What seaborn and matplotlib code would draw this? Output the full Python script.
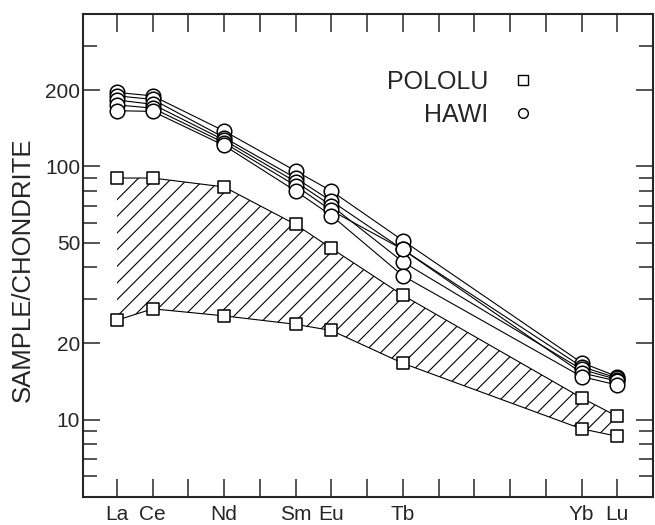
import numpy as np
import pandas as pd
import matplotlib
matplotlib.use("Agg")
import matplotlib.pyplot as plt
import seaborn as sns
from matplotlib.lines import Line2D
from matplotlib.ticker import FixedLocator, NullFormatter

# ---- data ----
elements = ["La", "Ce", "Nd", "Sm", "Eu", "Tb", "Yb", "Lu"]
atomic_number = [57, 58, 60, 62, 63, 65, 70, 71]

pololu_upper = [90, 90, 83, 59, 47.5, 31, 12.2, 10.3]
pololu_lower = [24.7, 27.4, 25.7, 23.8, 22.5, 16.7, 9.2, 8.6]

hawi_1 = [196, 190, 138, 96, 80, 51, 16.8, 14.8]
hawi_2 = [190, 184, 130, 90, 73, 47, 16.2, 14.6]
hawi_3 = [183, 176, 127, 87, 70, 42, 15.8, 14.4]
hawi_4 = [175, 170, 124, 84, 67, 47, 15.3, 14.2]
hawi_5 = [166, 165, 121, 80, 64, 37, 14.8, 13.7]

y_major = [10, 20, 50, 100, 200]
y_major_labels = ["10", "20", "50", "100", "200"]
y_minor = [6, 7, 8, 9, 30, 40, 60, 70, 80, 90, 300]
legend_labels = ["POLOLU", "HAWI"]
ylabel = "SAMPLE/CHONDRITE"

# ---- frames ----
hawi = pd.DataFrame({
    "Z": atomic_number * 5,
    "value": hawi_1 + hawi_2 + hawi_3 + hawi_4 + hawi_5,
    "sample": sum([[i] * len(elements) for i in range(5)], []),
})
pololu = pd.DataFrame({
    "Z": atomic_number * 2,
    "value": pololu_upper + pololu_lower,
    "sample": ["upper"] * len(elements) + ["lower"] * len(elements),
})

sns.set_style("ticks")
plt.rcParams["font.family"] = ["Liberation Sans", "DejaVu Sans"]
plt.rcParams["hatch.linewidth"] = 0.8

fig = plt.figure(figsize=(6.55, 5.25), dpi=100)
ax = fig.add_axes([83 / 655, 1 - 497 / 525, 570 / 655, 483 / 525])

# hatched Pololu field
ax.fill_between(atomic_number, pololu_lower, pololu_upper, facecolor="none",
                edgecolor="black", linewidth=0, hatch="//", zorder=1)

# lines
sns.lineplot(data=pololu, x="Z", y="value", units="sample", estimator=None,
             color="black", lw=0.8, legend=False, ax=ax, zorder=2)
sns.lineplot(data=hawi, x="Z", y="value", units="sample", estimator=None,
             color="black", lw=0.8, legend=False, ax=ax, zorder=2)

# markers
sns.scatterplot(data=pololu, x="Z", y="value", marker="s", s=85,
                facecolor="white", edgecolor="black", linewidth=1.1,
                legend=False, ax=ax, zorder=3)
sns.scatterplot(data=hawi, x="Z", y="value", marker="o", s=110,
                facecolor="white", edgecolor="black", linewidth=1.1,
                legend=False, ax=ax, zorder=3)

ax.set_yscale("log")
ax.set_ylim(4.95, 400)
ax.set_xlim(56.05, 72)

# x ticks
xt = list(range(57, 72))
xl = [elements[atomic_number.index(z)] if z in atomic_number else "" for z in xt]
ax.set_xticks(xt)
ax.set_xticklabels(xl, fontsize=15)
ax.tick_params(axis="x", which="major", direction="in", length=13, width=1.1,
               top=True, bottom=True, pad=6)

# y ticks
ax.yaxis.set_major_locator(FixedLocator(y_major))
ax.set_yticklabels(y_major_labels, fontsize=15)
ax.yaxis.set_minor_locator(FixedLocator(y_minor))
ax.yaxis.set_minor_formatter(NullFormatter())
ax.tick_params(axis="y", which="major", direction="in", length=12, width=1.1,
               left=True, right=True, pad=2)
ax.tick_params(axis="y", which="minor", direction="in", length=10, width=1.1,
               left=True, right=True)

for sp in ax.spines.values():
    sp.set_linewidth(1.5)
    sp.set_visible(True)

ax.set_xlabel("")
ax.set_ylabel(ylabel, fontsize=18.5)
ax.yaxis.set_label_coords(-0.085, 0.47)

handles = [
    Line2D([], [], ls="none", marker="s", ms=7, mfc="white", mec="black", mew=1.0),
    Line2D([], [], ls="none", marker="o", ms=7, mfc="white", mec="black", mew=1.0),
]
ax.legend(handles, legend_labels, loc="center right", bbox_to_anchor=(0.785, 0.825),
          frameon=False, markerfirst=False, fontsize=18, handlelength=0.6,
          handletextpad=1.1, labelspacing=0.35, borderpad=0, borderaxespad=0)

fig.savefig("out.png", dpi=100)
